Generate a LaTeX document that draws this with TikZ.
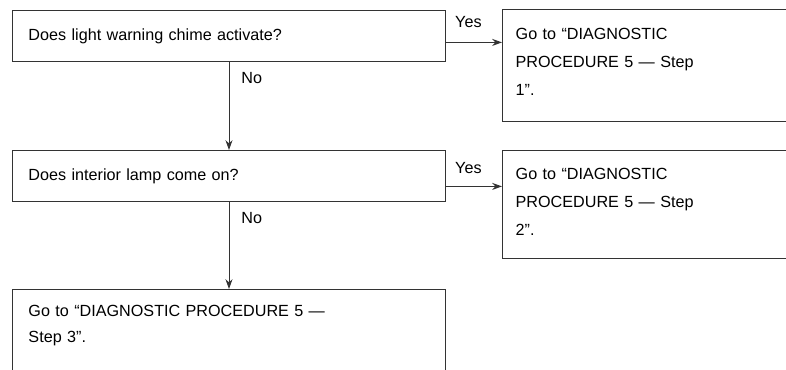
\documentclass[tikz,border=0pt]{standalone}
\usepackage{fontspec}
\setmainfont{Liberation Sans}
\usetikzlibrary{arrows.meta}
\tikzset{
  box/.style={draw=black!80, line width=0.7pt, anchor=north west, align=left, inner xsep=0.4cm, text width=10.025cm, minimum height=1.275cm},
  goto/.style={draw=black!80, line width=0.7pt, anchor=north west, align=left, inner xsep=0.33cm, text width=7.3cm},
  flow/.style={draw=black!80, line width=0.7pt, -{Stealth[length=7pt,width=5pt]}},
  lbl/.style={inner sep=0pt}
}
\begin{document}
\begin{tikzpicture}[font=\fontsize{11.5}{20}\selectfont]
\useasboundingbox (0,0) rectangle (19.65,-9.225);
\clip (0,0) rectangle (19.65,-9.225);

\node[box] (chime) at (0.3,-0.25) {Does light warning chime activate?};
\node[goto, minimum height=2.8cm, text depth=1.6cm] (step1) at (12.55,-0.225) {Go to ``DIAGNOSTIC\\PROCEDURE 5 --- Step\\1''.};
\node[box] (lamp) at (0.3,-3.75) {Does interior lamp come on?};
\node[goto, minimum height=2.7cm, text depth=1.55cm] (step2) at (12.55,-3.75) {Go to ``DIAGNOSTIC\\PROCEDURE 5 --- Step\\2''.};
\node[box, inner ysep=0.4cm, text depth=3cm, font=\fontsize{11.5}{18}\selectfont] (step3) at (0.3,-7.225) {Go to ``DIAGNOSTIC PROCEDURE 5 ---\\Step 3''.};

\coordinate (yes1) at ([yshift=-0.16cm]chime.east);
\draw[flow] (yes1) -- node[lbl, above=0.35cm, pos=0.4] {Yes} (yes1 -| step1.west);
\coordinate (yes2) at ([yshift=-0.26cm]lamp.east);
\draw[flow] (yes2) -- node[lbl, above=0.3cm, pos=0.4] {Yes} (yes2 -| step2.west);

\draw[flow] (chime.south) -- node[lbl, anchor=north west, pos=0, xshift=0.3cm, yshift=-0.25cm] {No} (lamp.north);
\draw[flow] (lamp.south) -- node[lbl, anchor=north west, pos=0, xshift=0.3cm, yshift=-0.25cm] {No} (step3.north);
\end{tikzpicture}
\end{document}
